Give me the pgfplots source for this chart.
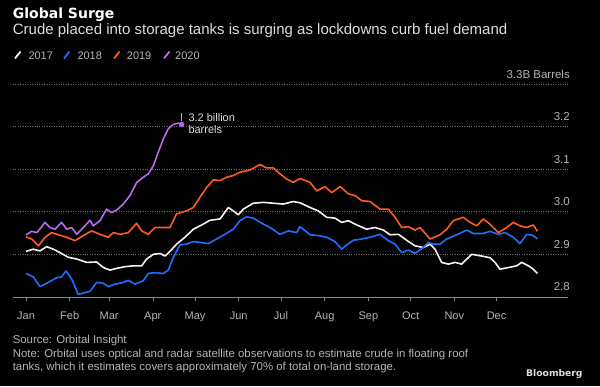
\documentclass[border=0pt]{standalone}
\usepackage{fontspec}
\setmainfont{Liberation Sans}
\newfontfamily\dejavu{DejaVu Sans}
\usepackage{pgfplots}
\pgfplotsset{compat=1.18}
\definecolor{c17}{HTML}{F2F2F2}
\definecolor{c18}{HTML}{1F6FFF}
\definecolor{c19}{HTML}{FF5A1F}
\definecolor{c20}{HTML}{B86BEB}
\definecolor{gridc}{HTML}{707070}
\definecolor{axc}{HTML}{8A8A8A}
\definecolor{txt}{HTML}{B4B4B4}
\definecolor{subc}{HTML}{DCDCDC}

\pgfplotstableread{
x y
0 2.946
4.0 2.954
7.6 2.951
10 2.960
13.5 2.975
17.0 2.963
20.6 2.959
25.3 2.975
28.9 2.959
32.4 2.963
36.0 2.947
40.7 2.963
45.4 2.980
47.8 2.967
52.5 2.979
57.2 3.006
60.8 2.998
64.3 3.004
69.1 3.018
73.8 3.038
78.6 3.069
83.3 3.081
86.8 3.089
90.4 3.108
93.9 3.140
97.5 3.171
101.0 3.195
104.6 3.205
108.1 3.208
110.5 3.205
}\dtwenty

\pgfplotstableread{
x y
0 2.941
4.0 2.936
8.8 2.920
13.5 2.940
18.2 2.951
22.9 2.946
28.9 2.940
34.8 2.932
40.7 2.944
46.6 2.955
52.5 2.947
58.4 2.940
62.0 2.951
66.7 2.947
72.6 2.951
78.5 2.973
82.1 2.955
86.8 2.947
91.6 2.963
97.5 2.963
102.2 2.963
106.9 2.995
114.0 3.002
118.8 3.010
123.5 3.034
128.2 3.057
133.0 3.075
137.7 3.073
142.4 3.081
147.1 3.085
151.9 3.093
159.0 3.098
166.1 3.111
170.8 3.103
175.5 3.103
180.3 3.089
185.0 3.077
189.7 3.069
194.5 3.078
201.6 3.069
206.3 3.049
212.2 3.059
217.0 3.045
222.9 3.059
228.8 3.042
233.5 3.038
238.3 3.026
244.2 3.024
251.3 3.006
257.2 3.006
261.9 2.987
266.7 2.963
271.4 2.965
276.1 2.957
279.7 2.963
286.8 2.936
293.9 2.946
298.6 2.959
303.3 2.979
310.4 2.987
315.2 2.975
319.9 2.967
324.6 2.983
329.3 2.971
335.3 2.951
341.2 2.963
345.9 2.975
350.6 2.967
355.4 2.963
360.1 2.969
363.0 2.954
}\dnineteen

\pgfplotstableread{
x y
0 2.907
5.2 2.912
9.9 2.908
14.7 2.918
19.4 2.912
24.1 2.904
30.0 2.893
36.0 2.889
43.1 2.881
50.1 2.882
54.9 2.869
59.6 2.863
64.3 2.867
70.3 2.871
76.2 2.873
82.1 2.873
85.6 2.889
90.4 2.900
95.1 2.902
98.7 2.896
102.2 2.907
106.9 2.924
112.8 2.940
118.8 2.959
124.7 2.969
130.6 2.980
137.7 2.983
143.6 3.010
147.1 3.002
150.7 2.993
154.2 3.006
161.3 3.020
168.5 3.022
175.5 3.020
182.6 3.018
189.7 3.024
194.5 3.021
201.6 3.010
207.5 3.002
213.4 2.987
219.3 2.985
224.1 2.975
228.8 2.979
234.7 2.969
241.8 2.959
247.7 2.963
253.6 2.957
258.4 2.946
264.3 2.947
270.2 2.933
276.1 2.920
282.0 2.916
286.8 2.924
290.3 2.912
295.0 2.881
299.8 2.877
304.5 2.881
309.2 2.877
316.3 2.900
323.4 2.896
329.3 2.892
332.9 2.881
336.4 2.865
342.4 2.869
348.3 2.873
351.8 2.881
356.6 2.873
360.1 2.865
363.0 2.855
}\dseventeen

\pgfplotstableread{
x y
0 2.855
5.2 2.847
9.9 2.824
15.8 2.834
21.8 2.845
25.3 2.847
28.4 2.861
32.4 2.842
37.1 2.806
41.9 2.810
45.4 2.813
50.1 2.834
54.9 2.832
58.4 2.824
63.2 2.830
69.1 2.834
72.6 2.839
77.4 2.830
83.3 2.838
86.8 2.855
91.6 2.857
97.5 2.855
101.0 2.863
104.6 2.893
109.3 2.922
114.0 2.924
118.8 2.930
123.5 2.928
129.4 2.925
135.3 2.936
141.2 2.947
147.1 2.959
151.9 2.979
156.6 2.988
161.3 2.985
167.3 2.973
173.2 2.963
180.3 2.947
186.2 2.955
192.1 2.951
194.5 2.965
201.6 2.946
207.5 2.944
213.4 2.940
219.3 2.930
224.1 2.912
227.6 2.922
232.3 2.933
238.3 2.936
244.2 2.940
251.3 2.947
257.2 2.932
261.9 2.924
266.7 2.904
271.4 2.910
276.1 2.902
282.0 2.916
285.6 2.928
289.1 2.924
293.9 2.924
298.6 2.936
305.7 2.946
312.8 2.957
317.5 2.949
324.6 2.949
329.3 2.954
335.3 2.947
340.0 2.951
345.9 2.940
350.6 2.925
355.4 2.947
360.1 2.944
363.0 2.936
}\deighteen

\begin{document}
\begin{tikzpicture}[x=1pt,y=1pt]
\fill[black] (0,0) rectangle (600,386);
% title and subtitle
\node[anchor=base west, inner sep=0, text=white, font=\dejavu\bfseries\fontsize{14}{16}\selectfont] at (12.7,367.7) {Global Surge};
\node[anchor=base west, inner sep=0, text=subc, font=\fontsize{15}{17}\selectfont] at (12.7,351.3) {Crude placed into storage tanks is surging as lockdowns curb fuel demand};
% legend
\draw[c17, line width=1.8pt] (15,327.5) -- (20.5,334.5);
\node[anchor=base west, inner sep=0, text=txt, font=\fontsize{11}{12}\selectfont] at (28.3,326.7) {2017};
\draw[c18, line width=1.8pt] (64,327.5) -- (69.5,334.5);
\node[anchor=base west, inner sep=0, text=txt, font=\fontsize{11}{12}\selectfont] at (77.3,326.7) {2018};
\draw[c19, line width=1.8pt] (114,327.5) -- (119.5,334.5);
\node[anchor=base west, inner sep=0, text=txt, font=\fontsize{11}{12}\selectfont] at (126.7,326.7) {2019};
\draw[c20, line width=1.8pt] (164,327.5) -- (169.5,334.5);
\node[anchor=base west, inner sep=0, text=txt, font=\fontsize{11}{12}\selectfont] at (175,326.7) {2020};

\begin{axis}[
  name=ax,
  at={(13pt,89.1pt)}, anchor=south west,
  width=555pt, height=212.9pt, scale only axis,
  xmin=-9.23, xmax=384.7, ymin=2.8, ymax=3.3,
  axis x line*=bottom, axis y line*=right,
  x axis line style={draw=axc, line width=0.8pt, -},
  y axis line style={draw=none},
  tick align=outside, major tick length=4pt,
  xtick={0,31,59,90,120,151,181,212,243,273,304,334},
  xticklabels={Jan,Feb,Mar,Apr,May,Jun,Jul,Aug,Sep,Oct,Nov,Dec},
  xtick style={draw=axc, line width=0.6pt},
  xticklabel style={anchor=base, inner sep=0pt, yshift=-18.6pt, text=txt, font=\fontsize{11}{12}\selectfont},
  ytick={2.8,2.9,3.0,3.1,3.2,3.3},
  yticklabels={2.8,2.9,3.0,3.1,3.2,3.3B Barrels},
  ytick style={draw=none},
  yticklabel style={anchor=base east, inner sep=0pt, xshift=-2pt, yshift=6pt, text=txt, font=\fontsize{11.5}{12}\selectfont},
  ymajorgrids, grid style={draw=gridc, dotted, line width=0.7pt},
  clip=false,
]
\addplot[c17, line width=1.6pt, line join=round] table[x=x,y=y] {\dseventeen};
\addplot[c18, line width=1.6pt, line join=round] table[x=x,y=y] {\deighteen};
\addplot[c19, line width=1.6pt, line join=round] table[x=x,y=y] {\dnineteen};
\addplot[c20, line width=1.6pt, line join=round] table[x=x,y=y] {\dtwenty};
\addplot[c20, only marks, mark=*, mark size=2.4pt] coordinates {(110.5,3.205)};
\draw[txt, line width=0.6pt] (axis cs:110.5,3.214) -- (axis cs:110.5,3.232);
\node[anchor=base west, inner sep=0, text=subc, font=\fontsize{11}{12}\selectfont] at (axis cs:115.2,3.212) {3.2 billion};
\node[anchor=base west, inner sep=0, text=subc, font=\fontsize{11}{12}\selectfont] at (axis cs:115.2,3.1826) {barrels};
\end{axis}
% footer
\node[anchor=base west, inner sep=0, text=txt, font=\fontsize{11.4}{13}\selectfont] at (12.6,42.4) {Source: Orbital Insight};
\node[anchor=base west, inner sep=0, text=txt, font=\fontsize{11.4}{13}\selectfont] at (12.6,28.5) {Note: Orbital uses optical and radar satellite observations to estimate crude in floating roof};
\node[anchor=base west, inner sep=0, text=txt, font=\fontsize{11.4}{13}\selectfont] at (12.6,15.5) {tanks, which it estimates covers approximately 70\% of total on-land storage.};
\node[anchor=base west, inner sep=0, text=subc, font=\dejavu\bfseries\fontsize{9.2}{11}\selectfont] at (526,10) {Bloomberg};
\pgfresetboundingbox
\useasboundingbox (0,0) rectangle (600,386);
\end{tikzpicture}
\end{document}
